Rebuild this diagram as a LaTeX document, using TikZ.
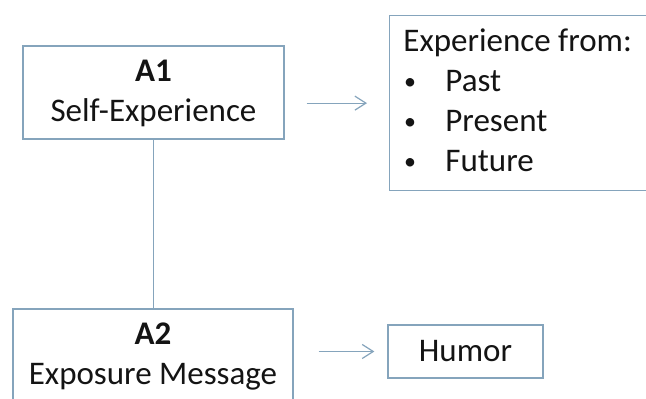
\documentclass[tikz,border=0pt]{standalone}
\usepackage{fontspec}
\setmainfont{Carlito}
\usetikzlibrary{arrows.meta}
\definecolor{boxline}{RGB}{133,164,188}
\definecolor{inktext}{RGB}{20,20,20}
\tikzset{
  panel/.style={draw=boxline, line width=0.65pt, fill=white, inner sep=0pt},
  label/.style={text=inktext, font=\fontsize{16.5}{20}\selectfont, inner sep=0pt},
  concept/.style={panel, label, align=center, minimum height=46.5pt, text depth=1.5pt},
  dot/.style={text=inktext, font=\fontsize{12}{12}\selectfont, inner sep=0pt},
  conn/.style={draw=boxline, line width=0.6pt},
  arr/.style={conn, -{Straight Barb[length=5.5pt, width=7pt]}}
}
\begin{document}
\begin{tikzpicture}[x=0.5pt, y=-0.5pt]
  \useasboundingbox (0,0) rectangle (646,399);
  \clip (0,0) rectangle (646,399);
  \fill[white] (0,0) rectangle (646,399);

  % first concept box
  \node[concept, minimum width=130.5pt] (a1) at (153.5,92.5) {\textbf{A1}\\Self-Experience};

  % list of time frames
  \node[panel, anchor=north west, minimum width=140pt, minimum height=87.5pt]
    (exp) at (389,15) {};
  \node[label, anchor=base west] (head) at (403,52) {Experience from:};
  \node[dot] (b1) at (410,84) {\textbullet};
  \node[dot] (b2) at (410,124) {\textbullet};
  \node[dot] (b3) at (410,164) {\textbullet};
  \node[label, anchor=base west] (past) at (445,92) {Past};
  \node[label, anchor=base west] (present) at (445,132) {Present};
  \node[label, anchor=base west] (future) at (445,172) {Future};

  % second concept box
  \node[concept, minimum width=140pt] (a2) at (153,355.5) {\textbf{A2}\\Exposure Message};

  \node[panel, label, minimum width=77.5pt, minimum height=26.5pt]
    (humor) at (465.5,351.5) {Humor};

  % connectors
  \draw[conn] (a1.south) -- (a1.south |- a2.north);
  \draw[arr, shorten <=11pt, shorten >=11pt] (a1.east |- exp.west) -- (exp.west);
  \draw[arr, shorten <=12.5pt, shorten >=6.5pt] (a2.east |- humor.west) -- (humor.west);
\end{tikzpicture}
\end{document}
